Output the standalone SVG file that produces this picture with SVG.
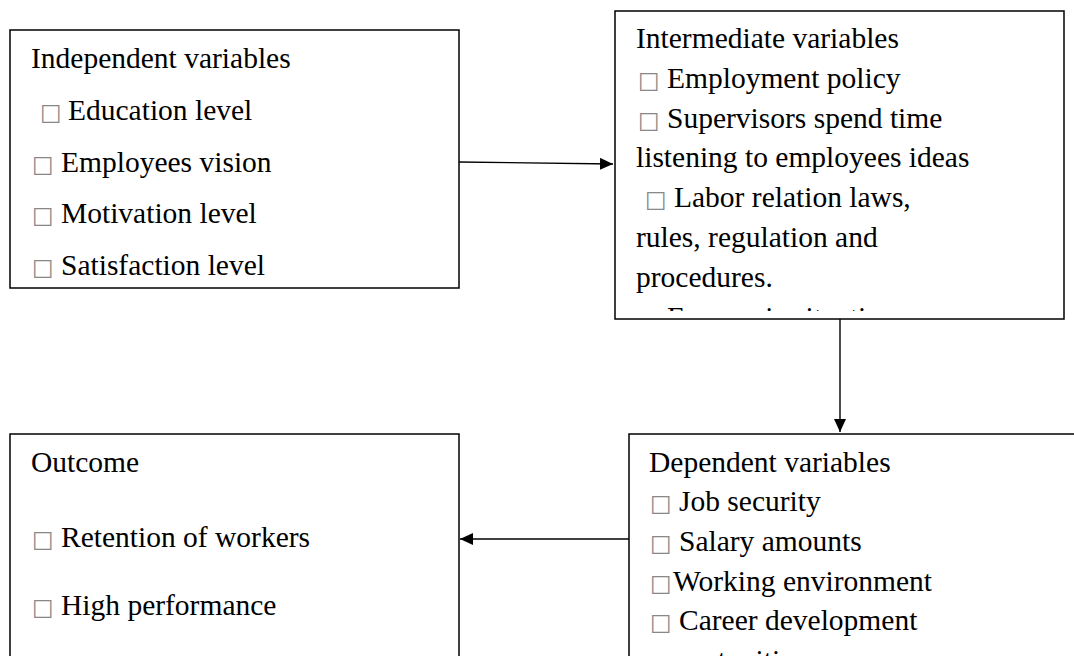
<svg xmlns="http://www.w3.org/2000/svg" width="1074" height="656" viewBox="0 0 1074 656">
<style>
.box{fill:#fff;stroke:#000;stroke-width:1.5}
.t{font-family:"Liberation Serif","Times New Roman","DejaVu Serif",serif;font-size:29.5px;fill:#000}
.b{font-family:"DejaVu Sans",sans-serif;font-size:23px;fill:#888}
.c{fill:none;stroke:#000;stroke-width:1.4}
</style>
<defs>
<marker id="ah" markerUnits="userSpaceOnUse" markerWidth="14" markerHeight="12" refX="13" refY="6" orient="auto">
<path d="M0,0 L13,6 L0,12 z" fill="#000"/>
</marker>
<clipPath id="clipInter"><rect x="615" y="11" width="449" height="300"/></clipPath>
</defs>
<rect width="1074" height="656" fill="#fff"/>
<g id="independent">
<rect class="box" x="10" y="30" width="449" height="258"/>
<text class="t" x="31" y="68">Independent variables</text>
<text class="t" x="40" y="120"><tspan class="b">□</tspan><tspan x="68">Education level</tspan></text>
<text class="t" x="32" y="172"><tspan class="b">□</tspan><tspan x="61">Employees vision</tspan></text>
<text class="t" x="32" y="223"><tspan class="b">□</tspan><tspan x="61">Motivation level</tspan></text>
<text class="t" x="32" y="275"><tspan class="b">□</tspan><tspan x="61">Satisfaction level</tspan></text>
</g>
<g id="intermediate">
<rect class="box" x="615" y="11" width="449" height="308"/>
<g clip-path="url(#clipInter)">
<text class="t" x="636" y="48">Intermediate variables</text>
<text class="t" x="638" y="88"><tspan class="b">□</tspan><tspan x="667">Employment policy</tspan></text>
<text class="t" x="638" y="128"><tspan class="b">□</tspan><tspan x="667">Supervisors spend time</tspan></text>
<text class="t" x="636" y="167">listening to employees ideas</text>
<text class="t" x="645" y="207"><tspan class="b">□</tspan><tspan x="674">Labor relation laws,</tspan></text>
<text class="t" x="636" y="247">rules, regulation and</text>
<text class="t" x="636" y="287">procedures.</text>
<text class="t" x="638" y="327"><tspan class="b">□</tspan><tspan x="667">Economic situation</tspan></text>
</g>
</g>
<g id="dependent">
<rect class="box" x="629" y="434" width="460" height="240"/>
<text class="t" x="649" y="472">Dependent variables</text>
<text class="t" x="650" y="511"><tspan class="b">□</tspan><tspan x="679">Job security</tspan></text>
<text class="t" x="650" y="551"><tspan class="b">□</tspan><tspan x="679">Salary amounts</tspan></text>
<text class="t" x="650" y="591"><tspan class="b">□</tspan><tspan x="673">Working environment</tspan></text>
<text class="t" x="650" y="630"><tspan class="b">□</tspan><tspan x="679">Career development</tspan></text>
<text class="t" x="649" y="670">opportunities</text>
</g>
<g id="outcome">
<rect class="box" x="10" y="434" width="449" height="240"/>
<text class="t" x="31" y="472">Outcome</text>
<text class="t" x="32" y="547"><tspan class="b">□</tspan><tspan x="61">Retention of workers</tspan></text>
<text class="t" x="32" y="615"><tspan class="b">□</tspan><tspan x="61">High performance</tspan></text>
</g>
<g id="connectors">
<line class="c" x1="459" y1="162" x2="613" y2="164" marker-end="url(#ah)"/>
<line class="c" x1="840" y1="319" x2="840" y2="432" marker-end="url(#ah)"/>
<line class="c" x1="629" y1="539" x2="460" y2="539" marker-end="url(#ah)"/>
</g>
</svg>
